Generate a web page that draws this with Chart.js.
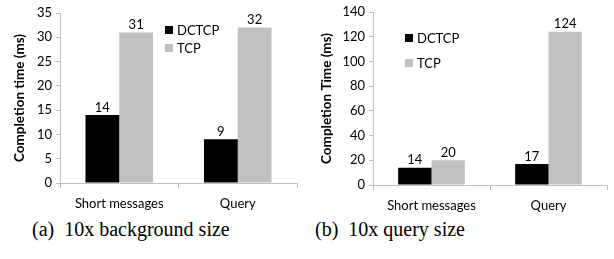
<!DOCTYPE html>
<html><head><meta charset="utf-8">
<script src="https://cdn.jsdelivr.net/npm/chart.js@4/dist/chart.umd.min.js"></script>
<style>
html,body{margin:0;padding:0;background:#fff;width:614px;height:259px;overflow:hidden}
.box{position:absolute;top:0;height:215px}
.cap{position:absolute;font-family:"Liberation Serif","Times New Roman",serif;font-size:20px;color:#000;white-space:pre;top:218px}
</style></head><body>
<div class="box" style="left:0;width:305px"><canvas id="c1"></canvas></div>
<div class="box" style="left:305px;width:309px"><canvas id="c2"></canvas></div>
<div class="cap" style="left:32px">(a)  10x background size</div>
<div class="cap" style="left:315px">(b)  10x query size</div>
<script>
const categories = ["Short messages", "Query"];
const seriesNames = ["DCTCP", "TCP"];
const bgSizeDCTCP = [14, 9];
const bgSizeTCP = [31, 32];
const querySizeDCTCP = [14, 17];
const querySizeTCP = [20, 124];
const yTitles = ["Completion time (ms)", "Completion Time (ms)"];
const yMax = [35, 140];
const yStep = [5, 20];

const FONT = "Lato, 'Open Sans', sans-serif";
const colors = ["#000000", "#c0c0c0"];
const axisColor = "#bfbfbf";

const labelPlugin = {
  id: 'vals',
  afterDatasetsDraw(chart) {
    const ctx = chart.ctx;
    ctx.save();
    ctx.font = "13px " + FONT;
    ctx.fillStyle = "#000";
    ctx.textAlign = "center";
    ctx.textBaseline = "bottom";
    chart.data.datasets.forEach((ds, i) => {
      chart.getDatasetMeta(i).data.forEach((bar, j) => {
        ctx.fillText(String(ds.data[j]), bar.x, bar.y - 1);
      });
    });
    ctx.restore();
  }
};

const legendPlugin = {
  id: 'inlegend',
  afterDraw(chart, args, opts) {
    const ctx = chart.ctx;
    ctx.save();
    ctx.font = "13px " + FONT;
    ctx.textBaseline = "middle";
    ctx.textAlign = "left";
    chart.data.datasets.forEach((ds, i) => {
      const x = opts.x, y = opts.y + i * opts.gap;
      ctx.fillStyle = ds.backgroundColor;
      ctx.fillRect(x, y - 4, 8, 8);
      ctx.fillStyle = "#000";
      ctx.fillText(ds.label, x + 12, y + 1);
    });
    ctx.restore();
  }
};

function make(id, d1, d2, k, yW, xH, padR, padT, legendPos, titlePad) {
  new Chart(document.getElementById(id), {
    type: 'bar',
    data: {
      labels: categories,
      datasets: [
        {label: seriesNames[0], data: d1, backgroundColor: colors[0], categoryPercentage: 0.57, barPercentage: 1.0},
        {label: seriesNames[1], data: d2, backgroundColor: colors[1], categoryPercentage: 0.57, barPercentage: 1.0}
      ]
    },
    options: {
      responsive: true,
      maintainAspectRatio: false,
      animation: false,
      events: [],
      layout: {padding: {left: 0, right: padR, top: padT, bottom: 0}},
      plugins: {legend: {display: false}, tooltip: {enabled: false}, inlegend: legendPos},
      scales: {
        x: {
          grid: {display: true, drawOnChartArea: false, drawTicks: true, tickLength: 5, color: axisColor, offset: true},
          border: {color: axisColor},
          ticks: {font: {family: FONT, size: 13}, color: "#000", padding: 8, maxRotation: 0},
          afterFit(s) { s.height = xH; }
        },
        y: {
          min: 0, max: yMax[k],
          ticks: {stepSize: yStep[k], font: {family: FONT, size: 13}, color: "#000", padding: 4},
          grid: {display: true, drawOnChartArea: false, drawTicks: true, tickLength: 4, color: axisColor},
          border: {color: axisColor},
          title: {display: true, text: yTitles[k], font: {family: FONT, size: 13.5, weight: 'bold'}, color: "#000", padding: {top: titlePad, bottom: 0}},
          afterFit(s) { s.width = yW; }
        }
      }
    },
    plugins: [labelPlugin, legendPlugin]
  });
}
make('c1', bgSizeDCTCP, bgSizeTCP, 0, 60, 32, 8, 13, {x: 165, y: 30, gap: 18}, 12);
make('c2', querySizeDCTCP, querySizeTCP, 1, 68, 30, 7, 12, {x: 100, y: 38, gap: 25}, 14);
</script>
</body></html>
